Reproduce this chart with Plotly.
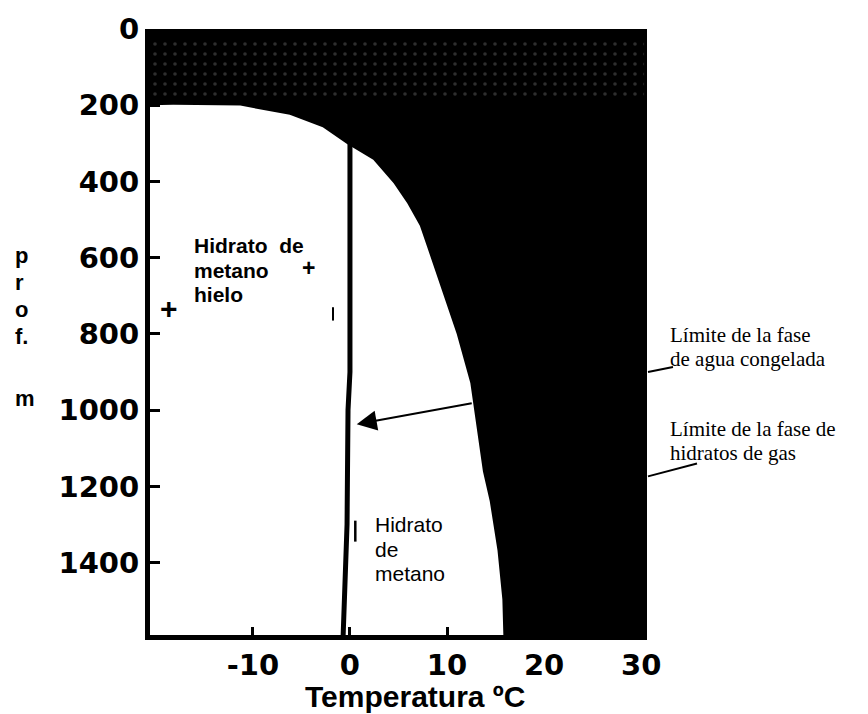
import plotly.graph_objects as go

# Methane hydrate stability boundary (temperature in degC vs depth in m)
hydrate_temp = [-20.6, -18.2, -11.3, -6.2, -2.8, -0.3, 2.4, 4.5, 5.9, 7.2, 7.9,
                9.3, 11.0, 12.4, 13.1, 13.7, 14.4, 15.2, 15.7, 15.8]
hydrate_depth = [200, 199, 201, 225, 258, 302, 343, 405, 457, 516, 568,
                 671, 800, 929, 1058, 1161, 1239, 1368, 1497, 1590]

# Freezing (ice) boundary
ice_temp = [0.0, 0.0, -0.2, -0.3, -0.7]
ice_depth = [302, 900, 1000, 1300, 1590]

# grainy band near the surface
band_temp = [-20.3, 30.3, 30.3, -20.3]
band_depth = [20, 20, 180, 180]

x_min, x_max = -20.6, 30.6
y_top, y_bottom = 0, 1590

x_ticks = [-10, 0, 10, 20, 30]
x_ticktext = ["-10", "0", "10", "20", "30"]
y_ticks = [0, 200, 400, 600, 800, 1000, 1200, 1400]

fig = go.Figure()

fig.add_trace(go.Scatter(
    x=band_temp, y=band_depth, mode="lines", fill="toself",
    fillcolor="rgba(0,0,0,0)",
    fillpattern=dict(shape=".", fgcolor="#5c5c5c", bgcolor="black",
                     size=10, solidity=0.1),
    line=dict(width=0), hoverinfo="skip", showlegend=False))

# white region: hydrate stable below the boundary curve
fig.add_trace(go.Scatter(
    x=hydrate_temp + [x_min],
    y=hydrate_depth + [y_bottom],
    mode="lines", fill="toself", fillcolor="white",
    line=dict(color="white", width=0), hoverinfo="skip", showlegend=False))

# ice line
fig.add_trace(go.Scatter(
    x=ice_temp, y=ice_depth, mode="lines",
    line=dict(color="black", width=5), hoverinfo="skip", showlegend=False))

sans = "Liberation Sans, Arial, sans-serif"
serif = "Liberation Serif, Times New Roman, serif"
digits = "DejaVu Sans, sans-serif"

PX_L, PX_R, PX_T, PX_B = 150, 647, 20, 635


def px(xp):
    return (xp - PX_L) / (PX_R - PX_L)


def py(yp):
    return 1 - (yp - PX_T) / (PX_B - PX_T)


def label(x, y, text, family, size, weight="normal", anchor="left"):
    return dict(x=px(x), y=py(y), xref="paper", yref="paper",
                xanchor=anchor, yanchor="middle", text=text, showarrow=False,
                font=dict(family=family, size=size, color="black",
                          weight=weight))


annotations = [
    label(192, 240, "Hidrato&nbsp;&nbsp;de", sans, 21, "bold"),
    label(192, 265, "metano", sans, 21, "bold"),
    label(308, 263, "+", sans, 23, "bold", "center"),
    label(192, 289, "hielo", sans, 21, "bold"),
    label(169, 304, "+", sans, 30, "bold", "center"),
    label(373, 523, "Hidrato", sans, 21),
    label(373, 548, "de", sans, 21),
    label(373, 573, "metano", sans, 21),
    label(415, 697, "Temperatura ºC", sans, 30, "bold", "center"),
    # arrow pointing at the ice line
    dict(x=0.7, y=1037, ax=12.7, ay=981, xref="x", yref="y", axref="x", ayref="y",
         text="", showarrow=True, arrowhead=2, arrowsize=2, arrowwidth=2,
         arrowcolor="black"),
    # right-hand labels
    label(668, 331, "Límite de la fase", serif, 21),
    label(668, 355, "de agua congelada", serif, 21),
    label(668, 426, "Límite de la fase de", serif, 21),
    label(668, 450, "hidratos de gas", serif, 21),
]

# vertical axis title, one letter per line
for ch, yp in zip(["p", "r", "o", "f.", "m"], [250, 277, 305, 332, 395]):
    annotations.append(label(13, yp, ch, sans, 22, "bold"))

shapes = [
    # leader lines to the right-hand labels
    dict(type="line", xref="paper", yref="paper", x0=px(648), y0=py(368),
         x1=px(673), y1=py(363), line=dict(color="black", width=2)),
    dict(type="line", xref="paper", yref="paper", x0=px(648), y0=py(474),
         x1=px(697), y1=py(461), line=dict(color="black", width=2)),
    # small marks
    dict(type="line", xref="x", yref="y", x0=-1.75, y0=730, x1=-1.75, y1=765,
         line=dict(color="black", width=2)),
    dict(type="line", xref="x", yref="y", x0=0.55, y0=1290, x1=0.55, y1=1345,
         line=dict(color="black", width=2.5)),
]

fig.update_layout(
    width=868, height=714,
    margin=dict(l=PX_L, r=868 - PX_R, t=PX_T, b=714 - PX_B),
    paper_bgcolor="white", plot_bgcolor="black",
    showlegend=False,
    annotations=annotations, shapes=shapes,
    xaxis=dict(range=[x_min, x_max], tickvals=x_ticks, ticktext=x_ticktext,
               ticks="inside", ticklen=8, tickwidth=3, tickcolor="black",
               showline=True, linecolor="black", linewidth=5,
               showgrid=False, zeroline=False,
               tickfont=dict(family=digits, size=29, color="black",
                             weight="bold")),
    yaxis=dict(range=[y_bottom, y_top], tickvals=y_ticks, ticks="inside",
               ticklen=10, tickwidth=3, tickcolor="black",
               showline=True, linecolor="black", linewidth=5,
               showgrid=False, zeroline=False,
               tickfont=dict(family=digits, size=29, color="black",
                             weight="bold")),
)

fig.write_html("out.html")
